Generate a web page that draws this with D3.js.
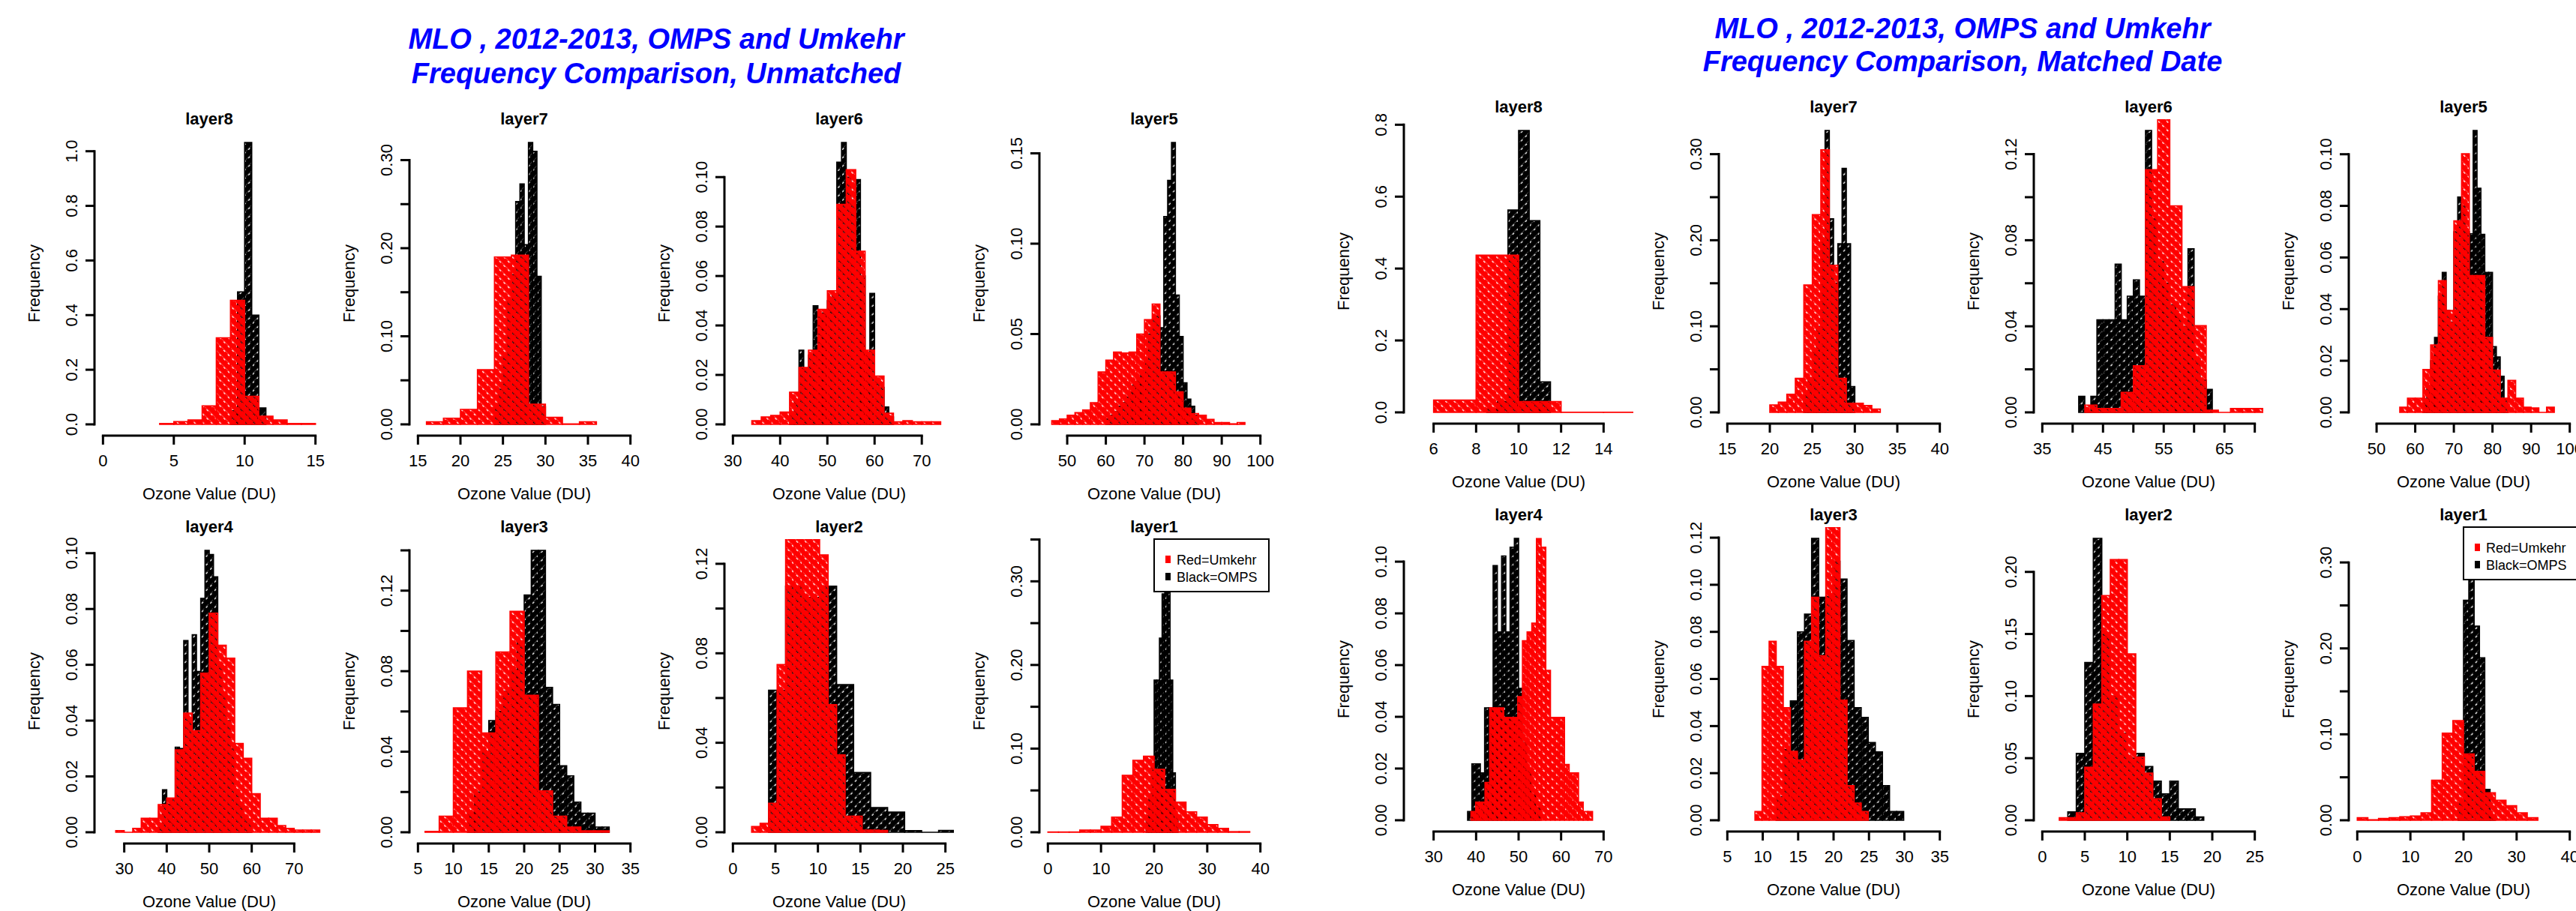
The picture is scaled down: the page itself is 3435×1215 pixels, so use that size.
<!DOCTYPE html>
<html><head><meta charset="utf-8">
<script src="https://cdn.jsdelivr.net/npm/d3@7"></script>
<style>
body{margin:0;background:#fff}
svg{display:block}
text{font-family:"Liberation Sans",Arial,Helvetica,sans-serif}
</style>
</head><body>
<svg id="c" width="3435" height="1215"></svg>
<script>
// ---------------- DATA ----------------
const layerNames = ["layer8","layer7","layer6","layer5","layer4","layer3","layer2","layer1"];
const legendLabels = ["Red=Umkehr","Black=OMPS"];
const titleUnmatched = ["MLO , 2012-2013, OMPS and Umkehr","Frequency Comparison, Unmatched"];
const titleMatched = ["MLO , 2012-2013, OMPS and Umkehr","Frequency Comparison, Matched Date"];
const xAxisTitle = "Ozone Value (DU)";
const yAxisTitle = "Frequency";

// Unmatched panel axes
const unmatchedXlim = [[0,15],[15,40],[30,75],[45,100],[25,75],[5,35],[0,25],[0,40]];
const unmatchedYmax = [1.032,0.32,0.114,0.156,0.101,0.14,0.126,0.337];
const unmatchedXTicks = [[0,5,10,15],[15,20,25,30,35,40],[30,40,50,60,70],[50,60,70,80,90,100],[30,40,50,60,70],[5,10,15,20,25,30,35],[0,5,10,15,20,25],[0,10,20,30,40]];
const unmatchedXLabelEvery = [1,1,1,1,1,1,1,1];
const unmatchedYStep = [0.2,0.05,0.02,0.05,0.02,0.02,0.02,0.05];
const unmatchedYLabelEvery = [1,2,1,1,1,2,2,2];
const unmatchedYDecimals = [1,2,2,2,2,2,2,2];

// Matched panel axes
const matchedXlim = [[5,15],[15,40],[35,70],[45,100],[25,75],[5,35],[0,25],[0,40]];
const matchedYmax = [0.784,0.3275,0.131,0.1092,0.109,0.1197,0.227,0.328];
const matchedXTicks = [[6,8,10,12,14],[15,20,25,30,35,40],[35,40,45,50,55,60,65,70],[50,60,70,80,90,100],[30,40,50,60,70],[5,10,15,20,25,30,35],[0,5,10,15,20,25],[0,10,20,30,40]];
const matchedXLabelEvery = [1,1,2,1,1,1,1,1];
const matchedYStep = [0.2,0.05,0.02,0.02,0.02,0.02,0.05,0.05];
const matchedYLabelEvery = [1,2,2,1,1,1,1,2];
const matchedYDecimals = [1,2,2,2,2,2,2,2];

// Histograms: first break, bin width, densities
// --- Unmatched, OMPS (black)
const uOmps8 = {start:9, width:0.5, density:[0.05,0.485,1.032,0.40,0.06]};
const uOmps7 = {start:24, width:0.5, density:[0.02,0.04,0.08,0.14,0.17,0.253,0.273,0.204,0.32,0.31,0.168,0.02]};
const uOmps6 = {start:42, width:1, density:[0.005,0.01,0.030,0.022,0.028,0.048,0.045,0.045,0.05,0.052,0.106,0.114,0.10,0.09,0.099,0.06,0.028,0.053,0.018,0.015,0.007,0.003]};
const uOmps5 = {start:60, width:1, density:[0.003,0.005,0.007,0.01,0.012,0.015,0.018,0.022,0.026,0.03,0.035,0.05,0.058,0.06,0.0535,0.115,0.135,0.156,0.0715,0.0486,0.023,0.014,0.010,0.005]};
const uOmps4 = {start:38, width:1, density:[0.003,0.0152,0.01,0.012,0.0305,0.03,0.0687,0.04,0.0708,0.0576,0.0838,0.101,0.0995,0.0915,0.06,0.05,0.04,0.03,0.015,0.01,0.005,0.003]};
const uOmps3 = {start:12, width:1, density:[0.01,0.02,0.04,0.0555,0.06,0.07,0.08,0.095,0.1178,0.14,0.14,0.0719,0.0635,0.033,0.028,0.015,0.0095,0.0095,0.0026,0.0026]};
const uOmps2 = {start:4.2, width:2, density:[0.0635,0.11,0.105,0.110,0.066,0.0267,0.011,0.009,0.0007,0,0.0008]};
const uOmps1 = {start:18.5, width:0.5, density:[0.02,0.04,0.08,0.182,0.182,0.232,0.285,0.337,0.30,0.182,0.071,0.02]};
// --- Unmatched, Umkehr (red)
const uUmk8 = {start:4, width:1, density:[0.003,0.01,0.016,0.068,0.317,0.454,0.103,0.03,0.016,0.003,0.003]};
const uUmk7 = {start:16, width:2, density:[0.003,0.007,0.017,0.062,0.190,0.192,0.023,0.008,0.0005,0.003]};
const uUmk6 = {start:34, width:2, density:[0.0015,0.003,0.0036,0.005,0.013,0.023,0.030,0.0465,0.054,0.089,0.103,0.070,0.030,0.0195,0.0045,0.001,0.0015,0.001,0.001,0.001]};
const uUmk5 = {start:46, width:2, density:[0.002,0.003,0.005,0.0065,0.008,0.012,0.029,0.0355,0.040,0.0395,0.040,0.050,0.058,0.0666,0.029,0.029,0.018,0.009,0.006,0.005,0.0028,0.001,0.001,0.0003,0.001]};
const uUmk4 = {start:28, width:2, density:[0.0006,0,0.0014,0.005,0.005,0.0099,0.0123,0.0295,0.0427,0.0364,0.057,0.0785,0.067,0.0624,0.0318,0.0265,0.0138,0.005,0.005,0.0024,0.0014,0.0008,0.0008,0.0008]};
const uUmk3 = {start:6, width:2, density:[0.0004,0.008,0.0618,0.080,0.0493,0.0895,0.1097,0.068,0.0205,0.008,0.0026,0.0007,0.0007]};
const uUmk2 = {start:2.2, width:1, density:[0.0026,0.004,0.013,0.075,0.16,0.17,0.165,0.15,0.124,0.057,0.0346,0.0072,0.0072,0.001,0.001,0.0008]};
const uUmk1 = {start:0, width:2, density:[0.0003,0.0003,0.0003,0.0025,0.0025,0.007,0.018,0.068,0.086,0.0908,0.0753,0.0513,0.0359,0.0244,0.018,0.009,0.0047,0.0007,0.0007]};
// --- Matched, OMPS (black)
const mOmps8 = {start:8.5, width:0.5, density:[0.01,0.03,0.563,0.784,0.533,0.085]};
const mOmps7 = {start:24, width:0.5, density:[0.02,0.04,0.07,0.1,0.2,0.3275,0.225,0.15,0.196,0.2835,0.196,0.03]};
const mOmps6 = {start:41, width:1, density:[0.0075,0,0.0075,0.043,0.043,0.043,0.0689,0.043,0.054,0.0616,0.054,0.131,0.09,0.07,0.06,0.05,0.045,0.04,0.076,0.025,0.015,0.0107]};
const mOmps5 = {start:62, width:1, density:[0.005,0.01,0.02,0.029,0.045,0.0542,0.0395,0.035,0.07,0.0834,0.08,0.07,0.0692,0.1092,0.0868,0.069,0.0542,0.0542,0.0255,0.0215,0.014,0.005]};
const mOmps4 = {start:38, width:1, density:[0.0034,0.0218,0.0218,0.0183,0.0435,0.0435,0.0985,0.0728,0.1022,0.0728,0.1056,0.109,0.051,0.03,0.02,0.01,0.005]};
const mOmps3 = {start:11.9, width:1, density:[0.01,0.03,0.0507,0.08,0.0875,0.1197,0.0947,0.095,0.11,0.1024,0.0763,0.0478,0.0437,0.033,0.029,0.0147,0.0037,0.0037]};
const mOmps2 = {start:3, width:1, density:[0.0067,0.0539,0.127,0.227,0.15,0.1,0.07,0.05,0.0539,0.0433,0.0315,0.0213,0.0315,0.0091,0.0091,0.0026]};
const mOmps1 = {start:19, width:1, density:[0.02,0.256,0.328,0.226,0.189,0.036,0.005]};
// --- Matched, Umkehr (red)
const mUmk8 = {start:6, width:2, density:[0.034,0.437,0.030,0.0005,0.0005]};
const mUmk7 = {start:20, width:1, density:[0.0086,0.012,0.021,0.0395,0.148,0.2296,0.305,0.171,0.0395,0.0107,0.0107,0.0079,0.0038]};
const mUmk6 = {start:42, width:2, density:[0.0034,0.0018,0.0018,0.0093,0.0217,0.1128,0.14,0.096,0.0584,0.0403,0.001,0,0.0018,0.0018,0.0018]};
const mUmk5 = {start:56, width:2, density:[0.002,0.0055,0.0055,0.0166,0.0261,0.051,0.0395,0.0742,0.1002,0.053,0.053,0.029,0.0164,0.0055,0.0124,0.0055,0.002,0.0017,0,0.002]};
const mUmk4 = {start:38.8, width:1.1, density:[0.0034,0.007,0.007,0.0146,0.0435,0.0435,0.0435,0.0398,0.0398,0.0398,0.0478,0.0694,0.0728,0.0762,0.1089,0.1056,0.058,0.0398,0.0398,0.0398,0.0216,0.0183,0.0183,0.007,0.0034,0.0034]};
const mUmk3 = {start:8.9, width:1, density:[0.0037,0.0653,0.076,0.0653,0.0478,0.0293,0.0256,0.076,0.0947,0.0699,0.13,0.13,0.051,0.0147,0.0073,0.0037]};
const mUmk2 = {start:2, width:1, density:[0.002,0.002,0.006,0.0427,0.0935,0.181,0.21,0.21,0.134,0.0508,0.038,0.0173,0.0026]};
const mUmk1 = {start:0, width:2, density:[0.003,0.0006,0.002,0.003,0.004,0.005,0.0087,0.0466,0.1014,0.116,0.0772,0.0568,0.032,0.0233,0.0169,0.0087,0.003]};

const unmatchedOmps = [uOmps8,uOmps7,uOmps6,uOmps5,uOmps4,uOmps3,uOmps2,uOmps1];
const unmatchedUmk = [uUmk8,uUmk7,uUmk6,uUmk5,uUmk4,uUmk3,uUmk2,uUmk1];
const matchedOmps = [mOmps8,mOmps7,mOmps6,mOmps5,mOmps4,mOmps3,mOmps2,mOmps1];
const matchedUmk = [mUmk8,mUmk7,mUmk6,mUmk5,mUmk4,mUmk3,mUmk2,mUmk1];

// ---------------- LAYOUT / STYLE ----------------
const W = 306, H = 406, COL_STEP = 420;
const RED = "#ff0000", BLACK = "#000000", BLUE = "#0000ff";
const FONT = 22;

const svg = d3.select("#c");
const defs = svg.append("defs");

function hatch(id, color, angle) {
  const p = defs.append("pattern").attr("id", id)
    .attr("patternUnits", "userSpaceOnUse").attr("width", 8).attr("height", 8)
    .attr("patternTransform", `rotate(${angle})`);
  p.append("rect").attr("width", 8).attr("height", 6.6).attr("fill", color);
  p.append("line").attr("x1", 0).attr("x2", 8).attr("y1", 7.3).attr("y2", 7.3)
    .attr("stroke", color).attr("stroke-width", 1.4).attr("stroke-dasharray", "5 3");
}
hatch("hatchBlack", BLACK, -45);
hatch("hatchRed", RED, 45);

function drawHist(g, hist, x, y, color, pat) {
  const bins = hist.density.map((d, i) => ({
    x0: hist.start + i * hist.width, x1: hist.start + (i + 1) * hist.width, d
  }));
  g.selectAll(null).data(bins).join("path")
    .attr("d", b => `M${x(b.x0)},${y(0)}V${y(b.d)}H${x(b.x1)}V${y(0)}Z`)
    .attr("fill", `url(#${pat})`)
    .attr("stroke", color).attr("stroke-width", 1.6);
}

let clipId = 0;
function drawPanel(cfg, i) {
  const row = i < 4 ? 0 : 1, col = i % 4;
  const left = cfg.left0 + col * COL_STEP;
  const top = cfg.tops[row];
  const bottom = top + H;
  const [a, b] = cfg.xlim[i];
  const r = b - a;
  const x = d3.scaleLinear().domain([a - 0.04 * r, b + 0.04 * r]).range([left, left + W]);
  const ymax = cfg.ymax[i];
  const y = d3.scaleLinear().domain([-0.04 * ymax, 1.04 * ymax]).range([bottom, top]);

  const g = svg.append("g");
  const cid = "clip" + (clipId++);
  defs.append("clipPath").attr("id", cid).append("rect")
    .attr("x", left).attr("y", top).attr("width", W).attr("height", H);
  const bars = g.append("g").attr("clip-path", `url(#${cid})`);
  drawHist(bars, cfg.omps[i], x, y, BLACK, "hatchBlack");
  drawHist(bars, cfg.umk[i], x, y, RED, "hatchRed");

  // x axis
  const xt = cfg.xTicks[i];
  const ax = g.append("g");
  ax.append("line").attr("x1", x(xt[0])).attr("x2", x(xt[xt.length - 1]))
    .attr("y1", bottom).attr("y2", bottom).attr("stroke", "#000").attr("stroke-width", 3).attr("stroke-linecap", "square");
  ax.selectAll(null).data(xt).join("line")
    .attr("x1", d => x(d)).attr("x2", d => x(d)).attr("y1", bottom).attr("y2", bottom + 12)
    .attr("stroke", "#000").attr("stroke-width", 3);
  ax.selectAll(null).data(xt.filter((d, k) => k % cfg.xLabelEvery[i] === 0)).join("text")
    .attr("x", d => x(d)).attr("y", bottom + 41).attr("text-anchor", "middle")
    .attr("font-size", FONT).attr("fill", "#000").text(d => d);

  // y axis
  const step = cfg.yStep[i];
  const yt = d3.range(0, Math.floor(1.04 * ymax / step + 1e-6) + 1).map(k => k * step);
  const ay = g.append("g");
  ay.append("line").attr("x1", left).attr("x2", left)
    .attr("y1", y(yt[0])).attr("y2", y(yt[yt.length - 1]))
    .attr("stroke", "#000").attr("stroke-width", 3).attr("stroke-linecap", "square");
  ay.selectAll(null).data(yt).join("line")
    .attr("x1", left - 12).attr("x2", left).attr("y1", d => y(d)).attr("y2", d => y(d))
    .attr("stroke", "#000").attr("stroke-width", 3);
  const dec = cfg.yDecimals[i];
  ay.selectAll(null).data(yt.filter((d, k) => k % cfg.yLabelEvery[i] === 0)).join("text")
    .attr("transform", d => `translate(${left - 23},${y(d)}) rotate(-90)`)
    .attr("text-anchor", "middle").attr("font-size", FONT).attr("fill", "#000")
    .text(d => d.toFixed(dec));

  // labels
  g.append("text").attr("x", left + W / 2).attr("y", bottom + 85)
    .attr("text-anchor", "middle").attr("font-size", FONT).text(xAxisTitle);
  g.append("text").attr("transform", `translate(${left - 73},${top + H / 2}) rotate(-90)`)
    .attr("text-anchor", "middle").attr("font-size", FONT).text(yAxisTitle);
  g.append("text").attr("x", left + W / 2).attr("y", top - 9)
    .attr("text-anchor", "middle").attr("font-size", FONT).attr("font-weight", "bold")
    .text(layerNames[i]);

  // legend in layer1 panel
  if (i === 7) {
    const lw = 153, lh = 70;
    const lx = left + W - lw, ly = top;
    const lg = g.append("g");
    lg.append("rect").attr("x", lx).attr("y", ly).attr("width", lw).attr("height", lh)
      .attr("fill", "#fff").attr("stroke", "#000").attr("stroke-width", 2);
    const cols = [RED, BLACK];
    legendLabels.forEach((t, k) => {
      const cy = ly + 27 + k * 23;
      lg.append("rect").attr("x", lx + 15).attr("y", cy - 5).attr("width", 7).attr("height", 10).attr("fill", cols[k]);
      lg.append("text").attr("x", lx + 30).attr("y", cy + 6.5).attr("font-size", 18).text(t);
    });
  }
}

function drawGroup(cfg) {
  for (let i = 0; i < 8; i++) drawPanel(cfg, i);
  cfg.title.forEach((t, k) => {
    svg.append("text").attr("x", cfg.titleX).attr("y", cfg.titleY[k])
      .attr("text-anchor", "middle").attr("font-size", 38).attr("font-weight", "bold")
      .attr("font-style", "italic").attr("fill", BLUE).text(t);
  });
}

drawGroup({
  left0: 126, tops: [175, 719], titleX: 875, titleY: [65, 111], title: titleUnmatched,
  xlim: unmatchedXlim, ymax: unmatchedYmax, xTicks: unmatchedXTicks, xLabelEvery: unmatchedXLabelEvery,
  yStep: unmatchedYStep, yLabelEvery: unmatchedYLabelEvery, yDecimals: unmatchedYDecimals,
  omps: unmatchedOmps, umk: unmatchedUmk
});
drawGroup({
  left0: 1872, tops: [159, 703], titleX: 2617, titleY: [51, 95], title: titleMatched,
  xlim: matchedXlim, ymax: matchedYmax, xTicks: matchedXTicks, xLabelEvery: matchedXLabelEvery,
  yStep: matchedYStep, yLabelEvery: matchedYLabelEvery, yDecimals: matchedYDecimals,
  omps: matchedOmps, umk: matchedUmk
});
</script>
</body></html>
